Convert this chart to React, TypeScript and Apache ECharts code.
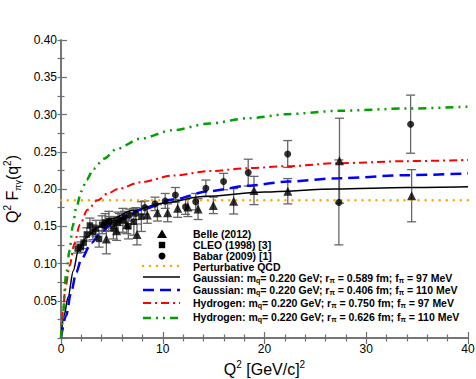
import React, { useEffect, useRef } from "react";
import * as echarts from "echarts";

// ---- Experimental data ----
const belleQ2 = [4.46, 5.47, 6.47, 7.47, 8.48, 9.48, 10.48, 11.47, 12.47, 13.47, 14.97, 16.97, 18.97, 22.29, 27.37, 34.46];
const belleF = [0.133, 0.144, 0.152, 0.139, 0.165, 0.168, 0.168, 0.174, 0.176, 0.173, 0.178, 0.1835, 0.198, 0.197, 0.238, 0.191];
const belleErr = [0.020, 0.013, 0.012, 0.014, 0.011, 0.011, 0.012, 0.012, 0.013, 0.014, 0.011, 0.017, 0.019, 0.017, 0.057, 0.035];

const cleoQ2 = [1.64, 1.94, 2.23, 2.54, 2.84, 3.14, 3.44, 3.74, 4.04, 4.34, 4.70, 5.15, 5.60, 6.08, 6.62, 7.16, 7.90];
const cleoF = [0.120, 0.122, 0.128, 0.139, 0.151, 0.142, 0.147, 0.133, 0.152, 0.155, 0.157, 0.147, 0.155, 0.158, 0.150, 0.156, 0.163];
const cleoErr = [0.006, 0.007, 0.008, 0.009, 0.010, 0.010, 0.011, 0.011, 0.012, 0.012, 0.013, 0.014, 0.014, 0.016, 0.017, 0.018, 0.020];

const babarQ2 = [4.24, 4.74, 5.24, 5.74, 6.24, 6.74, 7.35, 8.24, 9.24, 10.24, 11.24, 12.24, 13.24, 14.24, 15.98, 18.40, 22.28, 27.31, 34.36];
const babarF = [0.151, 0.156, 0.155, 0.159, 0.162, 0.165, 0.167, 0.175, 0.180, 0.184, 0.192, 0.176, 0.183, 0.201, 0.210, 0.222, 0.247, 0.182, 0.287];
const babarErr = [0.007, 0.007, 0.008, 0.008, 0.008, 0.008, 0.008, 0.009, 0.009, 0.010, 0.010, 0.010, 0.011, 0.011, 0.011, 0.018, 0.018, 0.057, 0.039];

// ---- Model curves ----
const pqcdQ2 = [0, 40];
const pqcdF = [0.185, 0.185];

const gauss97Q2 = [0, 0.3, 0.7, 1.2, 1.7, 2.5, 3.5, 5, 7, 10, 14, 20, 27, 34, 40];
const gauss97F = [0, 0.030, 0.055, 0.090, 0.117, 0.135, 0.148, 0.160, 0.171, 0.181, 0.190, 0.196, 0.200, 0.202, 0.203];

const gauss110Q2 = [0, 0.5, 1.0, 1.5, 2.0, 3.0, 4.0, 5.0, 6.5, 8, 11, 14.5, 18.4, 22.3, 27.3, 34, 40];
const gauss110F = [0, 0.030, 0.062, 0.088, 0.106, 0.128, 0.143, 0.153, 0.164, 0.173, 0.186, 0.197, 0.2045, 0.210, 0.2145, 0.2185, 0.221];

const hyd97Q2 = [0, 0.2, 0.4, 0.85, 1.3, 1.85, 2.6, 3.6, 4.6, 5.6, 7.8, 11, 14.6, 18.4, 22.3, 27.3, 34, 40];
const hyd97F = [0, 0.035, 0.065, 0.097, 0.126, 0.152, 0.172, 0.185, 0.194, 0.200, 0.209, 0.218, 0.224, 0.228, 0.2306, 0.2347, 0.2374, 0.239];

const hyd110Q2 = [0, 0.15, 0.5, 0.85, 1.15, 1.5, 2.0, 2.5, 3.2, 4.2, 5.5, 7.8, 11, 14.6, 18.4, 22.3, 27.3, 34, 40];
const hyd110F = [0, 0.025, 0.085, 0.118, 0.150, 0.175, 0.197, 0.212, 0.227, 0.2405, 0.254, 0.2676, 0.279, 0.288, 0.295, 0.3005, 0.305, 0.308, 0.3105];

// ---- Axis ticks ----
const xMin = 0, xMax = 40, xInterval = 10;
const yMin = 0, yMax = 0.4, yInterval = 0.05;

const FONT = "'Liberation Sans', Arial, Helvetica, sans-serif";

const zip = (a: number[], b: number[]) => a.map((v, i) => [v, b[i]]);
const errData = (x: number[], y: number[], e: number[]) => x.map((v, i) => [v, y[i] - e[i], y[i] + e[i]]);

const errorBarSeries = (data: number[][]) => ({
  type: "custom",
  silent: true,
  z: 2,
  data,
  encode: { x: 0, y: [1, 2] },
  renderItem: (params: any, api: any) => {
    const x = api.value(0);
    const lo = api.coord([x, api.value(1)]);
    const hi = api.coord([x, api.value(2)]);
    const w = 4.5;
    const st = { stroke: "#666", lineWidth: 1.3 };
    return {
      type: "group",
      children: [
        { type: "line", shape: { x1: lo[0], y1: lo[1], x2: hi[0], y2: hi[1] }, style: st },
        { type: "line", shape: { x1: lo[0] - w, y1: lo[1], x2: lo[0] + w, y2: lo[1] }, style: st },
        { type: "line", shape: { x1: hi[0] - w, y1: hi[1], x2: hi[0] + w, y2: hi[1] }, style: st },
      ],
    };
  },
});

const lineSeries = (name: string, x: number[], y: number[], color: string, width: number, type: any, cap = "butt") => ({
  name,
  type: "line",
  data: zip(x, y),
  showSymbol: false,
  symbol: "none",
  smooth: 0.3,
  smoothMonotone: "x",
  z: 3,
  lineStyle: { color, width, type, cap },
});

const SUB = { fontSize: 7, fontWeight: "bold", fontFamily: FONT, verticalAlign: "bottom", lineHeight: 12, fill: "#000" };

const legendRows = [
  { kind: "tri", y: 234, text: "Belle (2012)" },
  { kind: "sq", y: 245, text: "CLEO (1998) [3]" },
  { kind: "ci", y: 256, text: "Babar (2009) [1]" },
  { kind: "line", y: 266, ty: 267, text: "Perturbative QCD", color: "#ffa500", w: 2.5, dash: [0.01, 7], cap: "round" },
  { kind: "line", y: 277, ty: 278, text: "Gaussian: m{s|q}= 0.220 GeV; r{s|π} = 0.589 fm; f{s|π} = 97 MeV", color: "#000", w: 1.5, dash: null },
  { kind: "line", y: 290, ty: 290, text: "Gaussian: m{s|q}= 0.220 GeV; r{s|π} = 0.406 fm; f{s|π} = 110 MeV", color: "#0000ff", w: 2.5, dash: [11, 6] },
  { kind: "line", y: 303, ty: 303, text: "Hydrogen: m{s|q}= 0.220 GeV; r{s|π} = 0.750 fm; f{s|π} = 97 MeV", color: "#ff0000", w: 2, dash: [8, 4, 2, 4] },
  { kind: "line", y: 318, ty: 317, text: "Hydrogen: m{s|q}= 0.220 GeV; r{s|π} = 0.626 fm; f{s|π} = 110 MeV", color: "#00a000", w: 2.5, dash: [8, 5, 2, 5, 2, 5] },
];

function buildLegend() {
  const els: any[] = [];
  const mx = 162;
  const tx = 193;
  legendRows.forEach((r: any) => {
    if (r.kind === "tri") {
      els.push({ type: "polygon", shape: { points: [[mx, r.y - 4.5], [mx - 5, r.y + 4], [mx + 5, r.y + 4]] }, style: { fill: "#000" } });
    } else if (r.kind === "sq") {
      els.push({ type: "rect", shape: { x: mx - 3.2, y: r.y - 3.2, width: 6.4, height: 6.4 }, style: { fill: "#000" } });
    } else if (r.kind === "ci") {
      els.push({ type: "circle", shape: { cx: mx, cy: r.y, r: 3.5 }, style: { fill: "#000" } });
    } else {
      els.push({
        type: "line",
        shape: { x1: 143, y1: r.y, x2: 180, y2: r.y },
        style: { stroke: r.color, lineWidth: r.w, lineDash: r.dash || undefined, lineCap: r.cap || "butt" },
      });
    }
    els.push({
      type: "text",
      x: tx,
      y: r.ty !== undefined ? r.ty : r.y,
      style: {
        text: r.text,
        fontSize: 10.5,
        fontWeight: "bold",
        fontFamily: FONT,
        fill: "#000",
        verticalAlign: "middle",
        align: "left",
        lineHeight: 10,
        rich: { s: SUB },
      },
    });
  });
  return els;
}

export default function App() {
  const ref = useRef<HTMLDivElement>(null);
  useEffect(() => {
    document.body.style.margin = "0";
    if (!ref.current) return;
    const chart = echarts.init(ref.current, null, { renderer: "svg" });
    const axisLine = { show: true, lineStyle: { color: "#6e6e6e", width: 1.5 } };
    const tick = { show: true, inside: true, length: 6, lineStyle: { color: "#6e6e6e", width: 1.2 } };
    const minor = { show: true, length: 3.5, lineStyle: { color: "#6e6e6e", width: 1.2 } };
    const nameRich = {
      sup: { fontSize: 10, fontFamily: FONT, verticalAlign: "top", lineHeight: 20, color: "#000" },
      sub: { fontSize: 9, fontFamily: FONT, verticalAlign: "bottom", lineHeight: 20, color: "#000" },
    };
    chart.setOption({
      animation: false,
      backgroundColor: "#fff",
      grid: { left: 61, right: 8, top: 40, bottom: 41, containLabel: false, outerBoundsMode: "none" },
      xAxis: [
        {
          type: "value",
          min: xMin,
          max: xMax,
          interval: xInterval,
          position: "bottom",
          axisLine,
          axisTick: tick,
          minorTick: { ...minor, splitNumber: 5 },
          splitLine: { show: false },
          axisLabel: { color: "#000", fontSize: 12, fontFamily: FONT, margin: 5 },
          name: "Q{sup|2} [GeV/c]{sup|2}",
          nameLocation: "middle",
          nameGap: 18,
          nameTextStyle: { fontSize: 16, fontFamily: FONT, color: "#000", lineHeight: 20, rich: nameRich },
        },
        {
          type: "value",
          min: xMin,
          max: xMax,
          interval: xInterval,
          position: "top",
          axisLine,
          axisTick: tick,
          minorTick: { ...minor, splitNumber: 5 },
          splitLine: { show: false },
          axisLabel: { show: false },
        },
      ],
      yAxis: [
        {
          type: "value",
          min: yMin,
          max: yMax,
          interval: yInterval,
          position: "left",
          axisLine,
          axisTick: tick,
          minorTick: { ...minor, splitNumber: 2 },
          splitLine: { show: false },
          axisLabel: {
            color: "#000",
            fontSize: 12,
            fontFamily: FONT,
            margin: 4,
            formatter: (v: number) => (v === 0 ? "" : v.toFixed(2)),
          },
          name: "Q{sup|2} F{sub|πγ}(q{sup|2})",
          nameLocation: "middle",
          nameGap: 27,
          nameRotate: 90,
          nameTextStyle: { fontSize: 16, fontFamily: FONT, color: "#000", lineHeight: 20, rich: nameRich },
        },
        {
          type: "value",
          min: yMin,
          max: yMax,
          interval: yInterval,
          position: "right",
          axisLine,
          axisTick: { ...tick, length: 3.5 },
          minorTick: { ...minor, splitNumber: 2 },
          splitLine: { show: false },
          axisLabel: { show: false },
        },
      ],
      series: [
        lineSeries("Perturbative QCD", pqcdQ2, pqcdF, "#ffa500", 2.5, [0.01, 7], "round"),
        lineSeries("Gaussian 97", gauss97Q2, gauss97F, "#000000", 1.5, "solid"),
        lineSeries("Gaussian 110", gauss110Q2, gauss110F, "#0000ff", 2.5, [11, 6]),
        lineSeries("Hydrogen 97", hyd97Q2, hyd97F, "#ff0000", 2, [8, 4, 2, 4]),
        lineSeries("Hydrogen 110", hyd110Q2, hyd110F, "#00a000", 2.5, [8, 5, 2, 5, 2, 5]),
        errorBarSeries(errData(cleoQ2, cleoF, cleoErr)),
        errorBarSeries(errData(belleQ2, belleF, belleErr)),
        errorBarSeries(errData(babarQ2, babarF, babarErr)),
        { name: "CLEO (1998) [3]", type: "scatter", data: zip(cleoQ2, cleoF), symbol: "rect", symbolSize: 6.5, itemStyle: { color: "#000" }, z: 4 },
        { name: "Belle (2012)", type: "scatter", data: zip(belleQ2, belleF), symbol: "triangle", symbolSize: 9, itemStyle: { color: "#000" }, z: 4 },
        { name: "Babar (2009) [1]", type: "scatter", data: zip(babarQ2, babarF), symbol: "circle", symbolSize: 7, itemStyle: { color: "#000" }, z: 4 },
      ],
      graphic: buildLegend(),
    });
    return () => chart.dispose();
  }, []);
  return <div ref={ref} style={{ width: 476, height: 379 }} />;
}
